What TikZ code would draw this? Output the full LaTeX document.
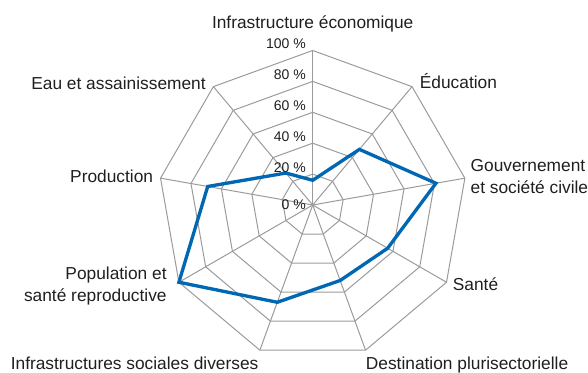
\documentclass[tikz,border=0pt]{standalone}
\usepackage{fontspec}
\setmainfont{Liberation Sans}
\usepackage{tikz}
\usetikzlibrary{calc}
\definecolor{chartblue}{RGB}{0,104,178}
\definecolor{gridgray}{RGB}{155,155,155}

\begin{document}
\begin{tikzpicture}[x=0.75pt, y=0.75pt,
  gridline/.style={gridgray, line width=0.75pt},
  dataline/.style={chartblue, line width=2.5pt, line join=miter},
  catlabel/.style={font=\fontsize{13}{17}\selectfont, inner sep=0pt, text=black!88},
  ticklabel/.style={font=\fontsize{10.5}{12}\selectfont, inner sep=0pt, anchor=base east, text=black!88}]

\useasboundingbox (0,0) rectangle (588,373);

% Parameters
\def\cx{312.7}
\def\cy{168}
\def\rr{154.5}
\def\vals{16,47,81,56,52,67,100,69,27}

% Centre and axis end points (clockwise from the top)
\coordinate (O) at (\cx,\cy);
\foreach \i in {0,...,8}
  \coordinate (V\i) at ({\cx + \rr*cos(90-40*\i)}, {\cy + \rr*sin(90-40*\i)});

% Grid rings and spokes
\foreach \k in {0.2,0.4,0.6,0.8,1.0}
  \draw[gridline] ($(O)!\k!(V0)$) \foreach \i in {1,...,8} {-- ($(O)!\k!(V\i)$)} -- cycle;
\foreach \i in {0,...,8}
  \draw[gridline] (O) -- (V\i);

% Data points and polygon
\foreach \v [count=\i from 0] in \vals
  \coordinate (D\i) at ($(O)!\v/100!(V\i)$);
\draw[dataline] (D0) \foreach \i in {1,...,8} {-- (D\i)} -- cycle;

% Percentage labels on the vertical axis
\foreach \p in {20,40,60,80,100}
  \node[ticklabel] (T\p) at ($(O)!\p/100!(V0) + (-6.7,1.5)$) {\p~\%};
\node[ticklabel] (T0) at ($(O) + (-6.7,-4.3)$) {0~\%};

% Category labels (base of two-line labels = last line)
\node[catlabel, anchor=base] (Linfra) at ($(V0) + (0,22.2)$) {Infrastructure économique};
\node[catlabel, anchor=base west] (Ledu) at ($(V1) + (7.6,-2.3)$) {Éducation};
\node[catlabel, anchor=base west, align=left] (Lgouv) at ($(V2) + (5.5,-15.7)$) {Gouvernement\\et société civile};
\node[catlabel, anchor=base west] (Lsante) at ($(V3) + (6.1,-8.5)$) {Santé};
\node[catlabel, anchor=base west] (Ldest) at ($(V4) + (0.1,-19.1)$) {Destination plurisectorielle};
\node[catlabel, anchor=base east] (Lsoc) at ($(V5) + (-1.2,-19.1)$) {Infrastructures sociales diverses};
\node[catlabel, anchor=base east, align=right] (Lpop) at ($(V6) + (-12,-19.5)$) {Population et\\santé reproductive};
\node[catlabel, anchor=base east] (Lprod) at ($(V7) + (-7.2,-4.4)$) {Production};
\node[catlabel, anchor=base east] (Leau) at ($(V8) + (-7.4,-2.7)$) {Eau et assainissement};

\end{tikzpicture}
\end{document}
